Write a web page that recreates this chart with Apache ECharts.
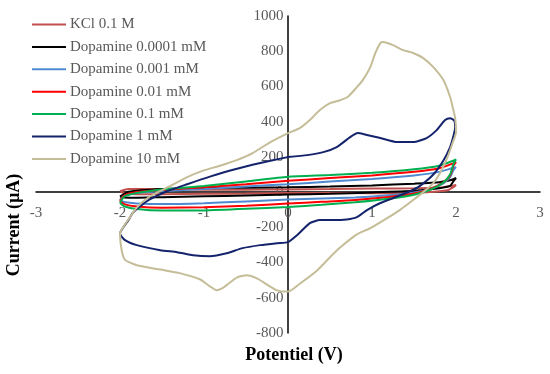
<!DOCTYPE html>
<html>
<head>
<meta charset="utf-8">
<script src="https://cdn.jsdelivr.net/npm/echarts@6/dist/echarts.min.js"></script>
<style>
  html, body { margin: 0; padding: 0; background: #fff; }
  #chart { width: 550px; height: 374px; }
</style>
</head>
<body>
<div id="chart"></div>
<script>
// Series names
const seriesNames = ['KCl 0.1 M', 'Dopamine 0.0001 mM', 'Dopamine 0.001 mM', 'Dopamine 0.01 mM', 'Dopamine 0.1 mM', 'Dopamine 1 mM', 'Dopamine 10 mM'];

// [potential (V), current (µA)], traced around each loop
const kcl = [[-2,5],[-1.9,18],[-1.5,18],[-1,14],[-0.5,14],[0,15],[0.5,17],[1,20],[1.5,22],[1.8,26],[1.95,35],[2,40],
  [1.97,28],[1.9,10],[1.7,0],[1.5,-5],[1,-6],[0.5,-5],[0,-5],[-0.5,-8],[-1,-10],[-1.5,-12],[-1.8,-12],[-1.95,-5],[-2,5]];
const dopa00001 = [[-2,-25],[-1.9,2],[-1.5,18],[-1,24],[-0.5,25],[0,27],[0.5,32],[1,38],[1.5,48],[1.8,56],[1.95,70],[2,80],
  [1.97,62],[1.93,35],[1.8,22],[1.5,8],[1,-2],[0.5,-10],[0,-14],[-0.5,-19],[-1,-24],[-1.5,-29],[-1.8,-32],[-1.95,-30],[-2,-25]];
const dopa0001 = [[-2,-45],[-1.95,-20],[-1.8,-5],[-1.5,5],[-1,18],[-0.5,32],[0,45],[0.5,60],[1,75],[1.5,95],[1.8,115],[1.95,135],[2,142],
  [1.97,125],[1.93,85],[1.85,50],[1.7,20],[1.5,-2],[1.2,-18],[0.8,-30],[0.4,-36],[0,-42],[-0.5,-53],[-1,-63],[-1.5,-68],[-1.8,-64],[-1.95,-56],[-2,-45]];
const dopa001 = [[-2,-50],[-1.95,-20],[-1.8,0],[-1.5,12],[-1,28],[-0.5,45],[0,64],[0.5,80],[1,95],[1.5,115],[1.8,135],[1.95,160],[2,170],
  [1.97,150],[1.93,95],[1.85,55],[1.7,20],[1.5,-8],[1.2,-28],[0.8,-45],[0.4,-55],[0,-65],[-0.5,-78],[-1,-86],[-1.5,-89],[-1.8,-82],[-1.95,-68],[-2,-50]];
const dopa01 = [[-2,-60],[-1.95,-25],[-1.8,-5],[-1.5,15],[-1,35],[-0.5,60],[0,87],[0.5,97],[1,110],[1.5,130],[1.8,150],[1.95,175],[2,185],
  [1.97,160],[1.93,100],[1.85,55],[1.7,15],[1.5,-15],[1.2,-38],[0.8,-58],[0.4,-72],[0,-84],[-0.5,-95],[-1,-104],[-1.5,-105],[-1.8,-96],[-1.95,-80],[-2,-60]];
const dopa1 = [[0,199],[-0.06,193],[-0.33,165],[-0.63,130],[-0.93,88],[-1.2,45],[-1.44,5],[-1.64,-40],[-1.76,-80],[-1.85,-119],[-1.9,-159],[-1.96,-200],[-2,-235],
  [-1.94,-273],[-1.8,-301],[-1.52,-330],[-1.32,-341],[-1.13,-358],[-0.93,-364],[-0.73,-347],[-0.54,-318],[-0.33,-301],[-0.13,-290],[0,-284],
  [0.11,-244],[0.26,-176],[0.38,-159],[0.54,-159],[0.7,-155],[0.82,-142],[0.94,-102],[1.1,-62],[1.3,-25],[1.45,5],[1.55,28],[1.73,100],[1.85,180],[1.93,256],[1.97,320],[1.99,370],
  [1.98,405],[1.93,420],[1.87,409],[1.77,352],[1.65,307],[1.49,284],[1.3,284],[1.1,307],[0.94,324],[0.83,335],[0.74,312],[0.58,256],[0.42,227],[0.23,210],[0,199]];
const dopa10 = [[0,335],[-0.21,284],[-0.42,222],[-0.61,182],[-0.81,150],[-1.01,122],[-1.2,85],[-1.4,35],[-1.61,-15],[-1.73,-55],[-1.82,-100],[-1.88,-142],[-1.95,-190],[-2,-235],[-1.98,-330],[-1.94,-385],
  [-1.8,-415],[-1.52,-440],[-1.29,-460],[-1.05,-495],[-0.93,-535],[-0.85,-557],[-0.78,-545],[-0.73,-528],[-0.61,-485],[-0.49,-472],[-0.37,-490],[-0.25,-525],[-0.13,-558],[0,-565],
  [0.14,-520],[0.35,-443],[0.5,-370],[0.62,-315],[0.82,-240],[0.98,-205],[1.18,-148],[1.33,-102],[1.49,-45],[1.61,0],[1.73,51],[1.81,108],[1.9,200],[1.96,280],[2,340],
  [1.99,420],[1.96,483],[1.93,540],[1.85,636],[1.73,710],[1.61,761],[1.49,790],[1.37,806],[1.25,835],[1.13,852],[1.1,846],[1.04,790],[0.98,710],[0.89,636],[0.82,596],[0.71,540],[0.62,522],[0.5,505],[0.38,466],[0.26,409],[0.14,363],[0,335]];

const seriesData = [kcl, dopa00001, dopa0001, dopa001, dopa01, dopa1, dopa10];
const seriesColors = ['#c0504d', '#000000', '#4f8ad1', '#ff0000', '#00b050', '#14236b', '#c4bd97'];

const font = 'Liberation Serif, Times New Roman, serif';
const chart = echarts.init(document.getElementById('chart'), null, { renderer: 'canvas' });

const GRID = { left: 36, right: 10, top: 16, bottom: 41 };

chart.setOption({
  animation: false,
  backgroundColor: '#ffffff',
  grid: Object.assign({ containLabel: false }, GRID),
  legend: {
    orient: 'vertical', left: 32, top: 17, padding: 0,
    icon: 'rect',
    itemWidth: 34, itemHeight: 2, itemGap: 7.4,
    textStyle: { fontFamily: font, fontSize: 15, lineHeight: 15, color: '#595959', padding: [0, 0, 0, -1] },
    data: seriesNames
  },
  xAxis: {
    type: 'value', min: -3, max: 3, interval: 1,
    axisLine: { onZero: true, lineStyle: { color: '#000', width: 1.5 } },
    axisTick: { show: false },
    splitLine: { show: false },
    axisLabel: { fontFamily: font, fontSize: 15, color: '#595959', margin: 13, hideOverlap: false,
      formatter: v => String(v) }
  },
  yAxis: {
    type: 'value', min: -800, max: 1000, interval: 200,
    axisLine: { show: true, onZero: true, lineStyle: { color: '#000', width: 1.5 } },
    axisTick: { show: false },
    splitLine: { show: false },
    axisLabel: { fontFamily: font, fontSize: 15, color: '#595959', margin: 6, hideOverlap: false,
      formatter: v => String(v) }
  },
  graphic: [
    { type: 'text', x: 14, y: 225, rotation: Math.PI / 2, silent: true,
      style: { text: 'Current (µA)', font: 'bold 18px ' + font, fill: '#000', textAlign: 'center', textVerticalAlign: 'middle' } },
    { type: 'text', x: 294, y: 355, silent: true,
      style: { text: 'Potentiel (V)', font: 'bold 18px ' + font, fill: '#000', textAlign: 'center', textVerticalAlign: 'middle' } }
  ],
  series: seriesNames.map((name, i) => ({
    name: name,
    type: 'line',
    data: seriesData[i],
    showSymbol: false,
    symbol: 'none',
    smooth: 0.2,
    color: seriesColors[i],
    lineStyle: { width: 2, color: seriesColors[i] },
    z: 2 + i
  }))
});

// Place tick labels next to the axis lines crossing at zero (as in the reference)
const origin = chart.convertToPixel({ gridIndex: 0 }, [0, 0]);
const gridBottomY = 374 - GRID.bottom;
chart.setOption({
  yAxis: { axisLabel: { margin: GRID.left - origin[0] + 6 } },
  xAxis: { axisLabel: { margin: origin[1] + 13 - gridBottomY } }
});
</script>
</body>
</html>
